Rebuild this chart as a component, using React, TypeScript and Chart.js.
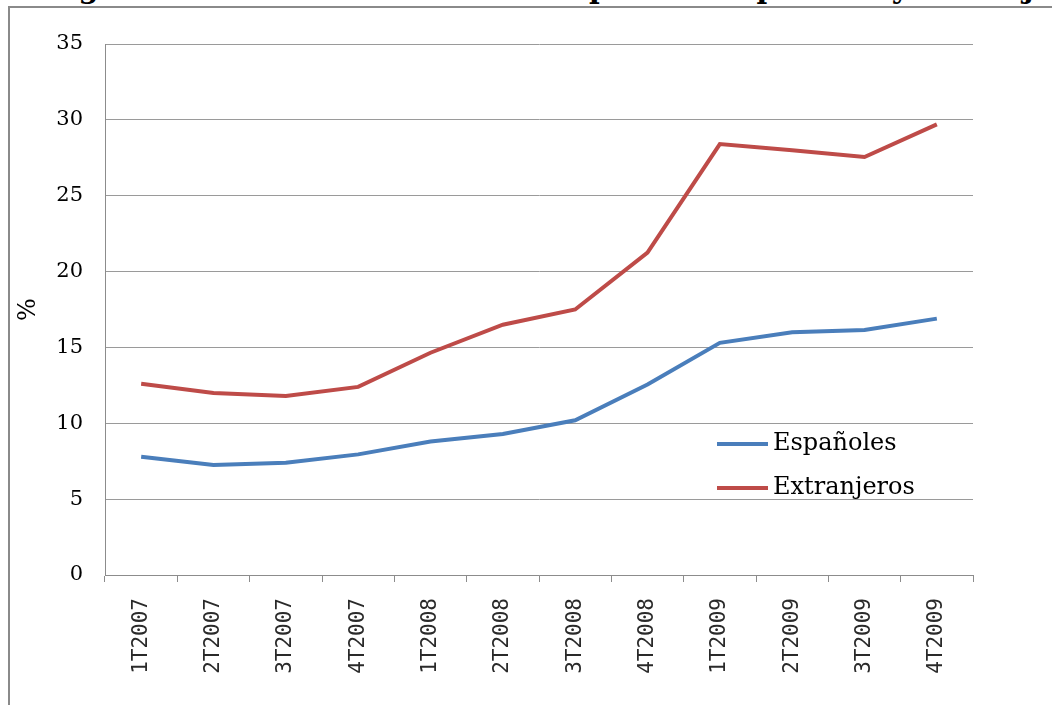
import React, { useEffect, useRef } from "react";
import { Chart, registerables } from "chart.js";

Chart.register(...registerables);

// Quarterly unemployment rate (%) by nationality
const quarters = [
  "1T2007", "2T2007", "3T2007", "4T2007",
  "1T2008", "2T2008", "3T2008", "4T2008",
  "1T2009", "2T2009", "3T2009", "4T2009",
];
const espanoles = [7.8, 7.25, 7.4, 7.95, 8.8, 9.3, 10.2, 12.55, 15.3, 16.0, 16.15, 16.9];
const extranjeros = [12.6, 12.0, 11.8, 12.4, 14.65, 16.5, 17.5, 21.25, 28.4, 28.0, 27.55, 29.7];
const seriesNames = ["Españoles", "Extranjeros"];
const seriesColors = ["#4a7ebb", "#be4b48"];
const yMin = 0;
const yMax = 35;
const yStep = 5;
const titleText = "Figura 1. Evolución de la tasa de paro de españoles y extranjeros";

const serif = "'DejaVu Serif', 'Liberation Serif', serif";
const mono = "'DejaVu Sans Mono', 'Liberation Mono', monospace";

// Legend drawn inside the plot area, lower right
const insideLegend = {
  id: "insideLegend",
  afterDatasetsDraw(chart: any) {
    const { ctx, chartArea } = chart;
    const x0 = chartArea.right - 256;
    const y0 = chartArea.bottom - 131;
    const rowGap = 44;
    ctx.save();
    chart.data.datasets.forEach((ds: any, i: number) => {
      const y = y0 + i * rowGap;
      ctx.strokeStyle = ds.borderColor;
      ctx.lineWidth = 4;
      ctx.lineCap = "butt";
      ctx.beginPath();
      ctx.moveTo(x0, y);
      ctx.lineTo(x0 + 51, y);
      ctx.stroke();
      ctx.fillStyle = "#000";
      ctx.font = `24px ${serif}`;
      ctx.textBaseline = "middle";
      ctx.textAlign = "left";
      ctx.fillText(ds.label, x0 + 56, y);
    });
    ctx.restore();
  },
};

function App() {
  const canvasRef = useRef<HTMLCanvasElement | null>(null);

  useEffect(() => {
    if (!canvasRef.current) return;
    const chart = new Chart(canvasRef.current, {
      type: "line",
      data: {
        labels: quarters,
        datasets: [
          {
            label: seriesNames[0],
            data: espanoles,
            borderColor: seriesColors[0],
            backgroundColor: seriesColors[0],
            borderWidth: 4,
            pointRadius: 0,
            tension: 0,
          },
          {
            label: seriesNames[1],
            data: extranjeros,
            borderColor: seriesColors[1],
            backgroundColor: seriesColors[1],
            borderWidth: 4,
            pointRadius: 0,
            tension: 0,
          },
        ],
      },
      options: {
        responsive: false,
        animation: false,
        devicePixelRatio: 1,
        layout: { padding: { top: 44, right: 79, left: 0, bottom: 0 } },
        plugins: {
          legend: { display: false },
          title: { display: false },
          tooltip: { enabled: false },
        },
        scales: {
          x: {
            type: "category",
            offset: true,
            afterFit: (scale: any) => {
              scale.height = 130;
            },
            grid: {
              offset: true,
              drawOnChartArea: false,
              drawTicks: true,
              tickLength: 7,
              color: "#8c8c8c",
            },
            border: { display: true, color: "#8c8c8c", width: 1 },
            ticks: {
              autoSkip: false,
              maxRotation: 90,
              minRotation: 90,
              padding: 16,
              color: "#2a2a2a",
              font: { family: mono, size: 21 },
            },
          },
          y: {
            min: yMin,
            max: yMax,
            afterFit: (scale: any) => {
              scale.width = 105;
            },
            ticks: {
              stepSize: yStep,
              padding: 22,
              color: "#000",
              font: { family: serif, size: 21 },
            },
            grid: {
              drawTicks: false,
              color: "#9a9a9a",
              lineWidth: 1,
            },
            border: { display: true, color: "#8c8c8c", width: 1 },
            title: {
              display: true,
              text: "%",
              color: "#000",
              font: { family: serif, size: 24 },
              padding: { top: 14, bottom: 0 },
            },
          },
        },
      },
      plugins: [insideLegend],
    });
    return () => chart.destroy();
  }, []);

  return (
    <div
      style={{
        position: "absolute",
        left: 0,
        top: 0,
        width: 1052,
        height: 705,
        overflow: "hidden",
        background: "#fff",
      }}
    >
      <div
        style={{
          position: "absolute",
          left: 47,
          top: -26,
          whiteSpace: "nowrap",
          fontFamily: serif,
          fontWeight: "bold",
          fontSize: 29,
          lineHeight: "29px",
          color: "#000",
        }}
      >
        {titleText}
      </div>
      <div
        style={{
          position: "absolute",
          left: 8,
          top: 6,
          width: 1200,
          height: 900,
          border: "2px solid #8a8a8a",
          boxSizing: "border-box",
          background: "transparent",
        }}
      />
      <canvas
        ref={canvasRef}
        width={1052}
        height={705}
        style={{ position: "absolute", left: 0, top: 0, width: 1052, height: 705 }}
      />
    </div>
  );
}

export default App;
